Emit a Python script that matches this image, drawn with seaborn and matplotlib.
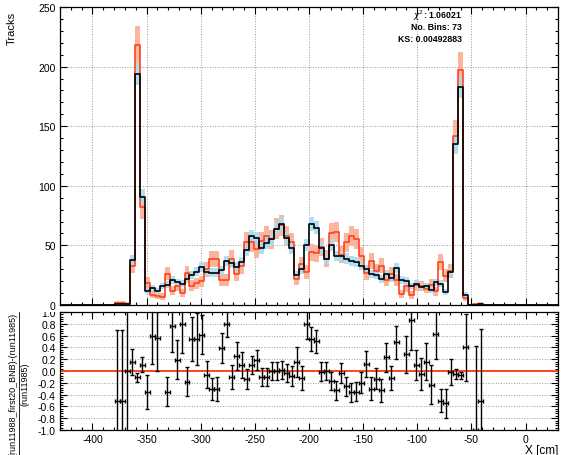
import numpy as np
import pandas as pd
import matplotlib
matplotlib.use("Agg")
import matplotlib.pyplot as plt
import seaborn as sns
from matplotlib.ticker import MultipleLocator, FormatStrFormatter
from matplotlib.patches import Rectangle
from matplotlib.lines import Line2D

# histogram binning (100 bins, only bins 11..84 are filled)
x_low, x_high, n_bins = -430.0, 30.0, 100
first_bin = 11

# run11988_first20_BNB (black line, blue band)
run11988 = [1.0, 1.0, 1.0, 38, 194, 91, 12, 14, 12, 16,
            17, 21, 19, 18, 22, 25, 28, 32, 28, 27,
            27, 29, 37, 35, 32, 36, 46, 58, 56, 48,
            52, 55, 64, 68, 56, 48, 25, 30, 50, 68,
            65, 48, 39, 50, 41, 41, 39, 37, 36, 33,
            30, 26, 25, 22, 26, 23, 31, 21, 20, 16,
            18, 15, 16, 13, 19, 18, 11, 27.7, 135, 183,
            8.7, 0, 0, 0.5]

# run11985 (red line, salmon band) - reference
run11985 = [2.0, 2.0, 1.0, 32.8, 218, 82, 18.8, 8.8, 7.7, 7.0,
            26.2, 11.9, 16.0, 10.0, 26.8, 16.2, 18.2, 19.8, 29.8, 38.6,
            38.6, 20.9, 20.6, 38.9, 25.6, 32.7, 52.9, 52.7, 47.1, 53.3,
            57.8, 55.0, 64.0, 66.7, 57.7, 52.7, 21.7, 34.1, 27.8, 44.2,
            43.3, 48.5, 39.0, 60.2, 61.2, 42.3, 52.7, 57.8, 55.4, 41.3,
            27.0, 37.1, 28.7, 32.8, 21.1, 26.1, 20.9, 9.0, 15.6, 8.6,
            16.4, 15.8, 13.8, 16.9, 11.7, 36.0, 24.4, 28.3, 142, 197,
            6.2, 0, 0.8, 1.0]

# error on the ratio as read from the lower pad
ratio_err = [1.2, 1.2, 1.5, 0.22, 0.07, 0.13, 0.29, 0.48, 0.55, np.nan,
             0.25, 0.45, 0.33, 0.5, 0.24, 0.37, 0.44, 0.33, 0.23, 0.19,
             0.2, 0.26, 0.22, 0.2, 0.24, 0.22, 0.17, 0.15, 0.17, 0.15,
             0.15, 0.16, 0.16, 0.15, 0.15, 0.17, 0.25, 0.2, 0.25, 0.2,
             0.2, 0.16, 0.16, 0.15, 0.16, 0.17, 0.16, 0.16, 0.16, 0.18,
             0.22, 0.2, 0.18, 0.2, 0.25, 0.21, 0.28, np.nan, 0.31, 0.5,
             0.25, 0.27, 0.32, 0.33, 0.42, 0.2, 0.25, 0.22, 0.08, 0.06,
             0.57, np.nan, 1.42, 1.22]

stats_lines = [r"$\chi^{2}$: 1.06021", "No. Bins: 73", "KS: 0.00492883"]

RED = "#fd4420"
SALMON = "#fbb59c"
BLUE = "#a9dcf3"

sns.set_theme(style="ticks", rc={"axes.edgecolor": "black", "xtick.color": "black",
                                 "ytick.color": "black", "text.color": "black",
                                 "axes.linewidth": 0.9})
plt.rcParams["font.family"] = ["Liberation Sans", "DejaVu Sans"]
plt.rcParams["axes.unicode_minus"] = False

edges = np.linspace(x_low, x_high, n_bins + 1)
width = edges[1] - edges[0]
centers = 0.5 * (edges[:-1] + edges[1:])
black = np.zeros(n_bins)
red = np.zeros(n_bins)
err_r = np.full(n_bins, np.nan)
black[first_bin:first_bin + len(run11988)] = run11988
red[first_bin:first_bin + len(run11985)] = run11985
err_r[first_bin:first_bin + len(ratio_err)] = ratio_err

# step outlines: value of each bin held from its left edge to the next
steps = pd.DataFrame({"edge": edges,
                      "black": np.append(black, black[-1]),
                      "red": np.append(red, red[-1])})

W, H = 562, 456
fig = plt.figure(figsize=(W / 100, H / 100), dpi=100)
ax1 = fig.add_axes([60 / W, 1 - 306 / H, 498 / W, 298 / H])
ax2 = fig.add_axes([60 / W, 1 - 431 / H, 498 / W, 118 / H])
ax1.set_zorder(1)

# error bands
m = red > 0
s_red = 1.1 * np.sqrt(red)
ax1.bar(centers[m], 2 * s_red[m], bottom=red[m] - s_red[m], width=width,
        color=SALMON, linewidth=0, zorder=1)
m = black > 0
s_blk = 0.7 * np.sqrt(black)
ax1.bar(centers[m], 2 * s_blk[m], bottom=black[m] - s_blk[m], width=width,
        color=BLUE, alpha=0.9, linewidth=0, zorder=1.1)

sns.lineplot(data=steps, x="edge", y="red", drawstyle="steps-post", estimator=None,
             sort=False, color=RED, linewidth=1.2, ax=ax1, zorder=2)
sns.lineplot(data=steps, x="edge", y="black", drawstyle="steps-post", estimator=None,
             sort=False, color="black", linewidth=1.2, ax=ax1, zorder=2.1)

ax1.set_xlim(x_low, x_high)
ax1.set_ylim(0, 250)
ax1.set_xlabel("")
ax1.set_ylabel("")
ax1.xaxis.set_major_locator(MultipleLocator(50))
ax1.xaxis.set_minor_locator(MultipleLocator(10))
ax1.yaxis.set_major_locator(MultipleLocator(50))
ax1.yaxis.set_minor_locator(MultipleLocator(10))
ax1.tick_params(labelbottom=False)
ax1.grid(True, which="major", linestyle=":", color="#9a9a9a", linewidth=0.7)
ax1.set_axisbelow(True)

# ratio pad
ratio = np.full(n_bins, np.nan)
ok = red > 0
ratio[ok] = black[ok] / red[ok] - 1
show = (~np.isnan(ratio)) & (ratio >= -1) & (ratio <= 1) & (~np.isnan(err_r))
ax2.axhline(0, color=RED, linewidth=1.4, zorder=1)
ax2.errorbar(centers[show], ratio[show], yerr=err_r[show], xerr=width / 2, fmt="none",
             ecolor="black", elinewidth=1.0, capsize=1.6, capthick=1.0, zorder=2)
ax2.set_xlim(x_low, x_high)
ax2.set_ylim(-1, 1)
ax2.xaxis.set_major_locator(MultipleLocator(50))
ax2.xaxis.set_minor_locator(MultipleLocator(10))
ax2.yaxis.set_major_locator(MultipleLocator(0.2))
ax2.yaxis.set_minor_locator(MultipleLocator(0.04))
ax2.yaxis.set_major_formatter(FormatStrFormatter("%.1f"))
ax2.grid(True, which="major", axis="y", linestyle=":", color="#9a9a9a", linewidth=0.7)
ax2.set_axisbelow(True)

for ax in (ax1, ax2):
    ax.tick_params(which="both", direction="in", top=True, right=True, labelsize=7.5, pad=3)
    ax.tick_params(which="major", length=5, width=0.8)
    ax.tick_params(which="minor", length=2.5, width=0.8)
    for sp in ax.spines.values():
        sp.set_zorder(5)

# texts
for i, line in enumerate(stats_lines):
    fig.text(462 / W, 1 - (16 + 11.5 * i) / H, line, ha="right", va="center",
             fontsize=6.3, fontweight="bold")
fig.text(12 / W, 1 - 12 / H, "Tracks", rotation=90, ha="center", va="top", fontsize=8)
fig.text(558 / W, 1 - 451 / H, "X [cm]", ha="right", va="center", fontsize=8.5)

num = fig.text(13 / W, 1 - 313 / H, "(run11988_first20_BNB)-(run11985)", rotation=90,
               ha="center", va="top", fontsize=6.5)
fig.canvas.draw()
bb = num.get_window_extent()
yc = 0.5 * (bb.y0 + bb.y1) / H
fig.text(25 / W, yc, "(run11985)", rotation=90, ha="center", va="center", fontsize=6.5)
fig.add_artist(Line2D([19 / W, 19 / W], [bb.y0 / H, bb.y1 / H], transform=fig.transFigure,
                      color="black", linewidth=0.6))

# the upper pad hides the top half of the "1.0" label
fig.add_artist(Rectangle((22 / W, 1 - 313 / H), 36 / W, 8 / H, transform=fig.transFigure,
                         facecolor="white", edgecolor="none", zorder=0.5))

fig.savefig("out.png", dpi=100)
